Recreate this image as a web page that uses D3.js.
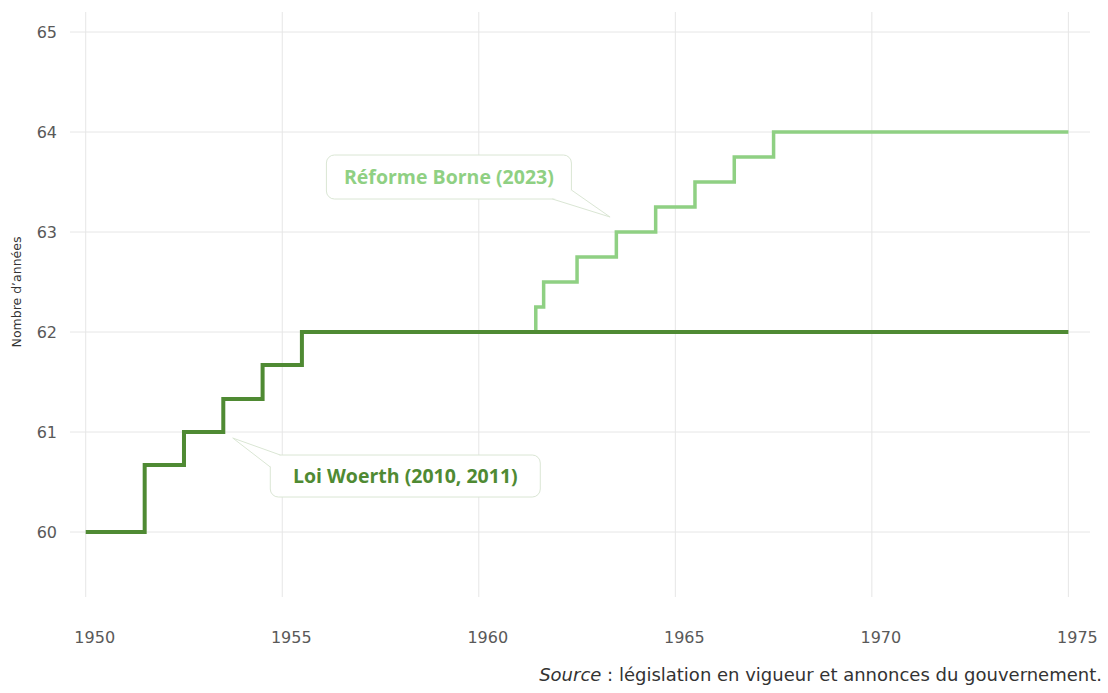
<!DOCTYPE html>
<html>
<head>
<meta charset="utf-8">
<title>Age legal de depart</title>
<style>
body { margin: 0; background: #fff; }
.grid line { stroke: #e6e6e6; stroke-width: 1; }
.tick-lab { font-family: "DejaVu Sans", sans-serif; font-size: 16px; fill: #595959; }
</style>
</head>
<body>
<svg width="1108" height="693"></svg>
<script src="https://d3js.org/d3.v7.min.js"></script>
<script>

// generation (annee de naissance) et age legal, en escalier
var woerthYears = [1950, 1951.5, 1952.5, 1953.5, 1954.5, 1955.5, 1975];
var woerthAges  = [60, 60.67, 61, 61.33, 61.67, 62, 62];

var borneYears = [1961.45, 1961.45, 1961.65, 1962.5, 1963.5, 1964.5, 1965.5, 1966.5, 1967.5, 1975];
var borneAges  = [62, 62.25, 62.5, 62.75, 63, 63.25, 63.5, 63.75, 64, 64];

var xTicks = [1950, 1955, 1960, 1965, 1970, 1975];
var yTicks = [60, 61, 62, 63, 64, 65];

var darkGreen = "#4f8a33",
    lightGreen = "#8fd083";

var svg = d3.select("svg");

var x = d3.scaleLinear().domain([1949.6, 1975.55]).range([70, 1090]);
var y = d3.scaleLinear().domain([59.35, 65.2]).range([597, 12]);

// grille
var grid = svg.append("g").attr("class", "grid");
grid.selectAll(".h").data(yTicks).enter().append("line")
    .attr("x1", x.range()[0]).attr("x2", x.range()[1])
    .attr("y1", function(d) { return y(d); })
    .attr("y2", function(d) { return y(d); });
grid.selectAll(".v").data(xTicks).enter().append("line")
    .attr("y1", y.range()[0]).attr("y2", y.range()[1])
    .attr("x1", function(d) { return x(d); })
    .attr("x2", function(d) { return x(d); });

// labels des axes
svg.append("g").selectAll("text").data(yTicks).enter().append("text")
    .attr("class", "tick-lab")
    .attr("x", 57)
    .attr("y", function(d) { return y(d); })
    .attr("dy", "0.35em")
    .attr("text-anchor", "end")
    .text(function(d) { return d; });

svg.append("g").selectAll("text").data(xTicks).enter().append("text")
    .attr("class", "tick-lab")
    .attr("x", function(d) { return x(d) + 9; })
    .attr("y", 643)
    .attr("text-anchor", "middle")
    .text(function(d) { return d; });

svg.append("text")
    .attr("transform", "translate(21,292) rotate(-90)")
    .attr("text-anchor", "middle")
    .attr("font-family", "DejaVu Sans, sans-serif")
    .attr("font-size", 12.5)
    .attr("fill", "#333")
    .text("Nombre d\u2019années");

// courbes
var line = d3.line()
    .x(function(d) { return x(d[0]); })
    .y(function(d) { return y(d[1]); })
    .curve(d3.curveStepAfter);

svg.append("path")
    .datum(d3.zip(borneYears, borneAges))
    .attr("d", line)
    .attr("fill", "none")
    .attr("stroke", lightGreen)
    .attr("stroke-width", 3.5);

svg.append("path")
    .datum(d3.zip(woerthYears, woerthAges))
    .attr("d", line)
    .attr("fill", "none")
    .attr("stroke", darkGreen)
    .attr("stroke-width", 4);

// bulles d'annotation
function callout(o) {
  var cx = x(o.cx), cy = y(o.cy), w = o.w, h = o.h;
  var l = cx - w / 2, r = cx + w / 2, t = cy - h / 2, b = cy + h / 2;
  var tip = [x(o.tip[0]), y(o.tip[1])], p1, p2, inner;
  if (o.corner == "br") {
    p1 = [r - 19, b]; p2 = [r, b - 9]; inner = [r - 4, b - 4];
  } else {
    p1 = [l, t + 12]; p2 = [l + 10, t]; inner = [l + 4, t + 4];
  }
  var g = svg.append("g");
  g.append("rect")
      .attr("x", l).attr("y", t).attr("width", w).attr("height", h)
      .attr("rx", 8)
      .attr("fill", "#fff").attr("stroke", "#dae6d4").attr("stroke-width", 1);
  g.append("path")
      .attr("d", "M" + [p1, inner, p2, tip].join("L") + "Z")
      .attr("fill", "#fff");
  g.append("path")
      .attr("d", "M" + [p1, tip, p2].join("L"))
      .attr("fill", "none").attr("stroke", "#dae6d4").attr("stroke-width", 1);
  g.append("text")
      .attr("x", cx).attr("y", cy)
      .attr("dy", "0.35em")
      .attr("text-anchor", "middle")
      .attr("font-family", "Open Sans, sans-serif")
      .attr("font-weight", 700)
      .attr("font-size", 19.5)
      .attr("fill", o.color)
      .text(o.text);
}

callout({text: "Réforme Borne (2023)", cx: 1959.24, cy: 63.55, w: 245, h: 44,
         tip: [1963.34, 63.15], corner: "br", color: lightGreen});
callout({text: "Loi Woerth (2010, 2011)", cx: 1958.13, cy: 60.56, w: 270, h: 42,
         tip: [1953.74, 60.94], corner: "tl", color: darkGreen});

// source
var src = svg.append("text")
    .attr("x", 1102).attr("y", 681)
    .attr("text-anchor", "end")
    .attr("font-family", "DejaVu Sans, sans-serif")
    .attr("font-size", 18)
    .attr("fill", "#333");
src.append("tspan").attr("font-style", "italic").text("Source");
src.append("tspan").text(" : législation en vigueur et annonces du gouvernement.");

</script>
</body>
</html>
